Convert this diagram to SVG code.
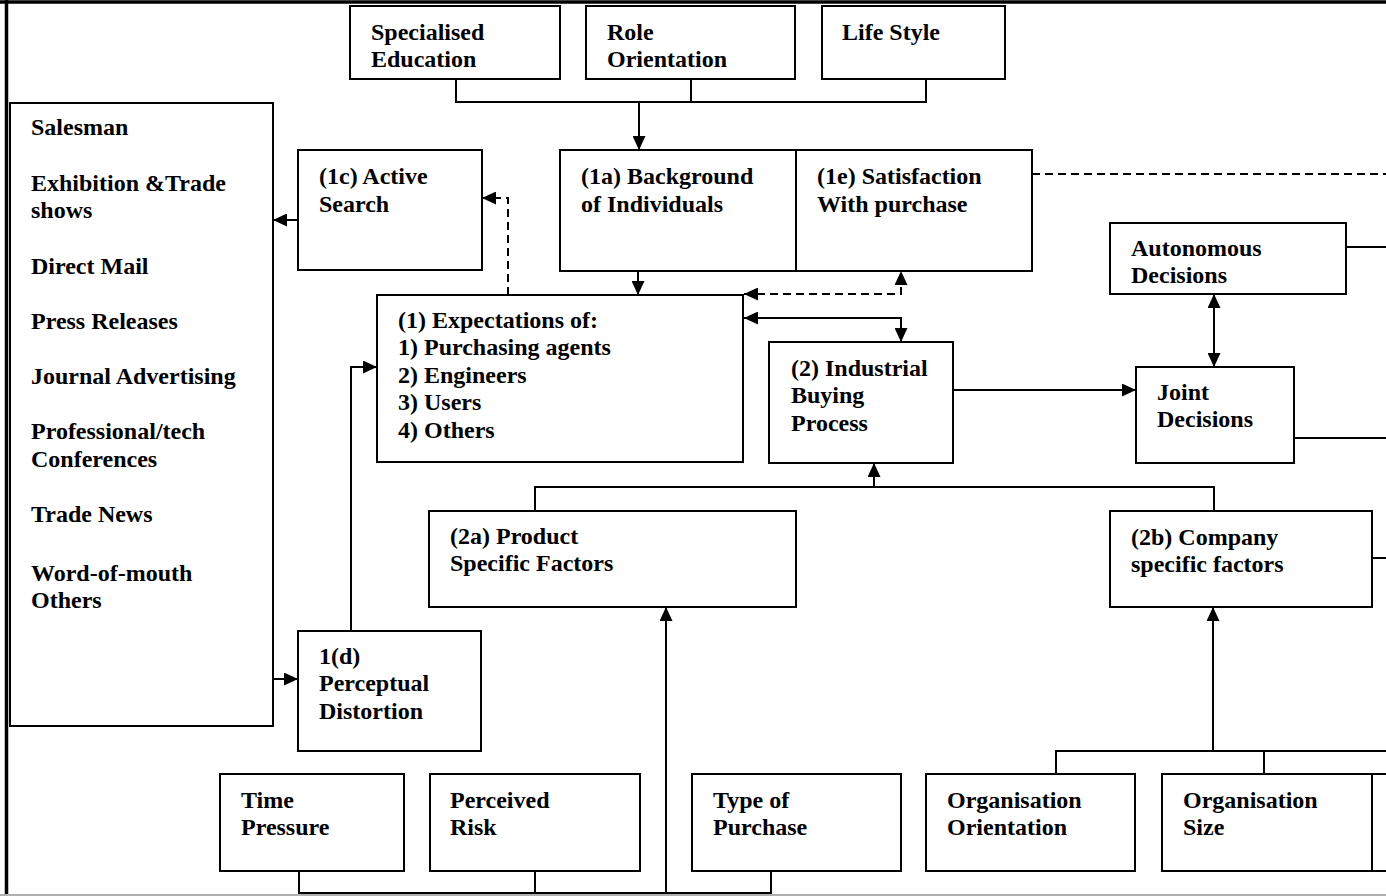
<svg xmlns="http://www.w3.org/2000/svg" width="1386" height="896" viewBox="0 0 1386 896">
<defs>
<marker id="ah" markerUnits="userSpaceOnUse" markerWidth="15" markerHeight="13" refX="14" refY="6.5" orient="auto-start-reverse">
<path d="M0,0 L14,6.5 L0,13 z" fill="#000"/>
</marker>
<style>
.b{fill:#fff;stroke:#000;stroke-width:2}
.t{font-family:"Liberation Serif","Times New Roman",serif;font-weight:bold;font-size:24px;fill:#000}
.c{fill:none;stroke:#000;stroke-width:2}
.d{fill:none;stroke:#000;stroke-width:2;stroke-dasharray:8,5}
</style>
</defs>
<rect x="0" y="0" width="1386" height="896" fill="#fff"/>
<g id="frame">
<line x1="0" y1="2" x2="1386" y2="2" stroke="#000" stroke-width="3.5"/>
<line x1="6.5" y1="0" x2="6.5" y2="896" stroke="#000" stroke-width="3.5"/>
<line x1="0" y1="895" x2="1386" y2="895" stroke="#b0b0b0" stroke-width="2"/>
</g>
<g id="connectors">
<path class="c" d="M456,79 V102 H926 V79 M691,79 V102"/>
<path class="c" d="M639,102 V150" marker-end="url(#ah)"/>
<path class="c" d="M638,271 V295" marker-end="url(#ah)"/>
<path class="d" d="M744,294 H901 V271" marker-start="url(#ah)" marker-end="url(#ah)"/>
<path class="c" d="M744,318 H901 V342" marker-start="url(#ah)" marker-end="url(#ah)"/>
<path class="d" d="M508,295 V198 H482" marker-end="url(#ah)"/>
<path class="c" d="M298,220 H273" marker-end="url(#ah)"/>
<path class="c" d="M273,679 H298" marker-end="url(#ah)"/>
<path class="c" d="M351,631 V367 H377" marker-end="url(#ah)"/>
<path class="c" d="M953,390 H1136" marker-end="url(#ah)"/>
<path class="c" d="M1214,294 V367" marker-start="url(#ah)" marker-end="url(#ah)"/>
<path class="d" d="M1032,174 H1386"/>
<path class="c" d="M1346,247 H1386 M1294,438 H1386 M1372,558 H1386"/>
<path class="c" d="M535,511 V487 H1214 V511"/>
<path class="c" d="M874,487 V463" marker-end="url(#ah)"/>
<path class="c" d="M299,871 V893 H771 V871 M535,871 V893"/>
<path class="c" d="M666,893 V607" marker-end="url(#ah)"/>
<path class="c" d="M1056,774 V751 H1386 M1264,774 V751"/>
<path class="c" d="M1213,751 V607" marker-end="url(#ah)"/>
</g>
<g id="specialised-education"><rect class="b" x="350" y="6" width="210" height="73"/><text class="t"><tspan x="371" y="40">Specialised</tspan><tspan x="371" y="67">Education</tspan></text></g>
<g id="role-orientation"><rect class="b" x="586" y="6" width="209" height="73"/><text class="t"><tspan x="607" y="40">Role</tspan><tspan x="607" y="67">Orientation</tspan></text></g>
<g id="life-style"><rect class="b" x="822" y="6" width="183" height="73"/><text class="t" x="842" y="40">Life Style</text></g>
<g id="background-satisfaction"><rect class="b" x="560" y="150" width="472" height="121"/><line x1="796" y1="150" x2="796" y2="271" stroke="#000" stroke-width="2"/>
<text class="t"><tspan x="581" y="184">(1a) Background</tspan><tspan x="581" y="212">of Individuals</tspan></text>
<text class="t"><tspan x="817" y="184">(1e) Satisfaction</tspan><tspan x="817" y="212">With purchase</tspan></text></g>
<g id="active-search"><rect class="b" x="298" y="150" width="184" height="120"/><text class="t"><tspan x="319" y="184">(1c) Active</tspan><tspan x="319" y="212">Search</tspan></text></g>
<g id="sources"><rect class="b" x="10" y="103" width="263" height="623"/>
<text class="t"><tspan x="31" y="135">Salesman</tspan><tspan x="31" y="191">Exhibition &amp;Trade</tspan><tspan x="31" y="218">shows</tspan><tspan x="31" y="274">Direct Mail</tspan><tspan x="31" y="329">Press Releases</tspan><tspan x="31" y="384">Journal Advertising</tspan><tspan x="31" y="439">Professional/tech</tspan><tspan x="31" y="467">Conferences</tspan><tspan x="31" y="522">Trade News</tspan><tspan x="31" y="581">Word-of-mouth</tspan><tspan x="31" y="608">Others</tspan></text></g>
<g id="expectations"><rect class="b" x="377" y="295" width="366" height="167"/>
<text class="t"><tspan x="398" y="328">(1) Expectations of:</tspan><tspan x="398" y="355">1) Purchasing agents</tspan><tspan x="398" y="383">2) Engineers</tspan><tspan x="398" y="410">3) Users</tspan><tspan x="398" y="438">4) Others</tspan></text></g>
<g id="industrial-buying"><rect class="b" x="769" y="342" width="184" height="121"/><text class="t"><tspan x="791" y="376">(2) Industrial</tspan><tspan x="791" y="403">Buying</tspan><tspan x="791" y="431">Process</tspan></text></g>
<g id="autonomous"><rect class="b" x="1110" y="223" width="236" height="71"/><text class="t"><tspan x="1131" y="256">Autonomous</tspan><tspan x="1131" y="283">Decisions</tspan></text></g>
<g id="joint"><rect class="b" x="1136" y="367" width="158" height="96"/><text class="t"><tspan x="1157" y="400">Joint</tspan><tspan x="1157" y="427">Decisions</tspan></text></g>
<g id="product-factors"><rect class="b" x="429" y="511" width="367" height="96"/><text class="t"><tspan x="450" y="544">(2a) Product</tspan><tspan x="450" y="571">Specific Factors</tspan></text></g>
<g id="company-factors"><rect class="b" x="1110" y="511" width="262" height="96"/><text class="t"><tspan x="1131" y="545">(2b) Company</tspan><tspan x="1131" y="572">specific factors</tspan></text></g>
<g id="perceptual-distortion"><rect class="b" x="298" y="631" width="183" height="120"/><text class="t"><tspan x="319" y="664">1(d)</tspan><tspan x="319" y="691">Perceptual</tspan><tspan x="319" y="719">Distortion</tspan></text></g>
<g id="time-pressure"><rect class="b" x="220" y="774" width="184" height="97"/><text class="t"><tspan x="241" y="808">Time</tspan><tspan x="241" y="835">Pressure</tspan></text></g>
<g id="perceived-risk"><rect class="b" x="430" y="774" width="210" height="97"/><text class="t"><tspan x="450" y="808">Perceived</tspan><tspan x="450" y="835">Risk</tspan></text></g>
<g id="type-of-purchase"><rect class="b" x="692" y="774" width="209" height="97"/><text class="t"><tspan x="713" y="808">Type of</tspan><tspan x="713" y="835">Purchase</tspan></text></g>
<g id="org-orientation"><rect class="b" x="926" y="774" width="209" height="97"/><text class="t"><tspan x="947" y="808">Organisation</tspan><tspan x="947" y="835">Orientation</tspan></text></g>
<g id="org-size"><rect class="b" x="1162" y="774" width="210" height="97"/><text class="t"><tspan x="1183" y="808">Organisation</tspan><tspan x="1183" y="835">Size</tspan></text></g>
<g id="cut-off-box"><rect class="b" x="1372" y="774" width="40" height="97"/></g>
</svg>
